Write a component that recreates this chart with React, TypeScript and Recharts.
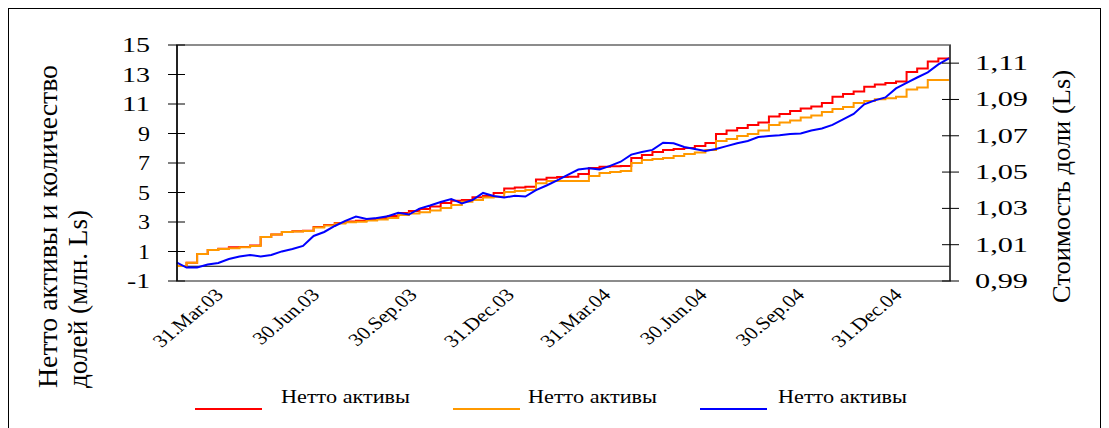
import React from 'react';
import { LineChart, Line, XAxis, YAxis, ReferenceLine, ReferenceArea } from 'recharts';

// days relative to 31.Mar.03
const days = [-39, -30, -20, -10, 0, 10, 20, 30, 40, 50, 60, 70, 80, 90, 100, 110, 120, 130, 140, 150, 160, 170, 180, 190, 200, 210, 220, 230, 240, 250, 260, 270, 280, 290, 300, 310, 320, 330, 340, 350, 360, 370, 380, 390, 400, 410, 420, 430, 440, 450, 460, 470, 480, 490, 500, 510, 520, 530, 540, 550, 560, 570, 580, 590, 600, 610, 620, 630, 640, 650, 660, 670, 680, 690];

const redSeries = [0.02, 0.24, 0.83, 1.10, 1.18, 1.28, 1.31, 1.41, 1.98, 2.15, 2.32, 2.37, 2.41, 2.66, 2.80, 2.93, 3.03, 3.08, 3.17, 3.27, 3.41, 3.61, 3.75, 3.88, 4.05, 4.29, 4.44, 4.49, 4.67, 4.76, 4.97, 5.27, 5.34, 5.39, 5.88, 6.00, 6.05, 6.07, 6.25, 6.66, 6.75, 6.78, 6.80, 7.34, 7.54, 7.75, 7.88, 7.95, 8.02, 8.15, 8.36, 8.97, 9.20, 9.37, 9.58, 9.75, 10.15, 10.32, 10.53, 10.69, 10.83, 11.07, 11.49, 11.68, 11.85, 12.17, 12.32, 12.42, 12.53, 13.17, 13.41, 13.88, 14.08, 14.17];

const orangeSeries = [0.02, 0.24, 0.83, 1.10, 1.17, 1.22, 1.28, 1.37, 1.98, 2.15, 2.32, 2.36, 2.39, 2.63, 2.76, 2.90, 2.98, 3.02, 3.10, 3.17, 3.27, 3.47, 3.58, 3.66, 3.78, 3.95, 4.15, 4.38, 4.49, 4.66, 4.72, 5.03, 5.10, 5.17, 5.62, 5.78, 5.78, 5.78, 5.78, 6.12, 6.32, 6.39, 6.46, 7.00, 7.20, 7.27, 7.34, 7.47, 7.61, 7.71, 7.88, 8.49, 8.63, 8.83, 8.97, 9.20, 9.58, 9.75, 9.88, 10.08, 10.22, 10.46, 10.66, 10.80, 11.07, 11.20, 11.33, 11.39, 11.49, 11.98, 12.12, 12.63, 12.63, 12.63];

const blueSeries = [1.0001, 0.9974, 0.9974, 0.9991, 0.9999, 1.0021, 1.0035, 1.0043, 1.0035, 1.0043, 1.0063, 1.0076, 1.0093, 1.0148, 1.0170, 1.0203, 1.0231, 1.0255, 1.0241, 1.0247, 1.0257, 1.0276, 1.0266, 1.0299, 1.0316, 1.0335, 1.0352, 1.0327, 1.0346, 1.0385, 1.0368, 1.0360, 1.0369, 1.0365, 1.0401, 1.0426, 1.0454, 1.0484, 1.0514, 1.0521, 1.0514, 1.0534, 1.0557, 1.0596, 1.0611, 1.0622, 1.0662, 1.0659, 1.0638, 1.0627, 1.0616, 1.0627, 1.0643, 1.0659, 1.0671, 1.0693, 1.0699, 1.0703, 1.0710, 1.0713, 1.0729, 1.0740, 1.0760, 1.0790, 1.0820, 1.0873, 1.0895, 1.0911, 1.0961, 1.0991, 1.1021, 1.1049, 1.1093, 1.1126];

const tickDays = [0, 91, 183, 275, 366, 457, 549, 641];
const tickLabels = ['31.Mar.03', '30.Jun.03', '30.Sep.03', '31.Dec.03', '31.Mar.04', '30.Jun.04', '30.Sep.04', '31.Dec.04'];
const leftTicks = [-1, 1, 3, 5, 7, 9, 11, 13, 15];
const rightTicks = [0.99, 1.01, 1.03, 1.05, 1.07, 1.09, 1.11];
const seriesNames = ['Нетто активы', 'Нетто активы', 'Нетто активы'];
const seriesColors = ['#ff0000', '#ff9900', '#0000ff'];
const leftTitle = ['Нетто активы и количество', 'долей (млн. Ls)'];
const rightTitle = 'Стоимость доли (Ls)';

const data = days.map((d, i) => ({ day: d, red: redSeries[i], orange: orangeSeries[i], blue: blueSeries[i] }));

const FONT = "'Liberation Serif', 'Times New Roman', serif";
const LEFT_AXIS_X = 168;
const RIGHT_AXIS_X = 941;
const PLOT_BOTTOM = 272;

const LeftTick = (props: any) => {
  const { y, payload } = props;
  const s = String(payload.value);
  const len = s === '-1' ? 23 : s.length === 1 ? 12 : 28;
  return (
    <g>
      <line x1={LEFT_AXIS_X - 9} x2={LEFT_AXIS_X + 8} y1={y} y2={y} stroke="#000" strokeWidth={1} />
      <text x={LEFT_AXIS_X - 27} y={y + 7} textAnchor="end" fontFamily={FONT} fontSize={20} fill="#000"
        textLength={len} lengthAdjust="spacingAndGlyphs">{s}</text>
    </g>
  );
};

const RightTick = (props: any) => {
  const { y, payload } = props;
  const s = Number(payload.value).toFixed(2).replace('.', ',');
  return (
    <g>
      <line x1={RIGHT_AXIS_X - 8} x2={RIGHT_AXIS_X + 9} y1={y} y2={y} stroke="#000" strokeWidth={1} />
      <text x={RIGHT_AXIS_X + 25} y={y + 7} textAnchor="start" fontFamily={FONT} fontSize={20} fill="#000"
        textLength={53} lengthAdjust="spacingAndGlyphs">{s}</text>
    </g>
  );
};

const XTick = (props: any) => {
  const { x, payload } = props;
  const idx = tickDays.indexOf(payload.value);
  const ax = x + 6;
  const ay = PLOT_BOTTOM + 15;
  return (
    <g transform={`translate(${ax},${ay}) scale(1.2,1) rotate(-45)`}>
      <text x={0} y={0} textAnchor="end" fontFamily={FONT} fontSize={18} fill="#000">
        {idx >= 0 ? tickLabels[idx] : ''}
      </text>
    </g>
  );
};

const legendX = [186, 444, 691];
const legendTextX = [272, 519, 769];

export default function App() {
  return (
    <div style={{ position: 'relative', width: 1093, height: 432, border: '1px solid #000', boxSizing: 'border-box', background: '#fff' }}>
      <LineChart width={1091} height={430} data={data} margin={{ top: 36, right: 50, bottom: 98, left: 108 }}>
        <XAxis dataKey="day" type="number" domain={[-39, 691]} ticks={tickDays} interval={0}
          axisLine={false} tickLine={false} height={60} tick={XTick} />
        <YAxis yAxisId="left" domain={[-1, 15]} ticks={leftTicks} interval={0} width={60}
          axisLine={{ stroke: '#000', strokeWidth: 1.5 }} tickLine={false} tick={LeftTick} />
        <YAxis yAxisId="right" orientation="right" domain={[0.99, 1.12]} ticks={rightTicks} interval={0} width={100}
          axisLine={{ stroke: '#333', strokeWidth: 1.5 }} tickLine={false} tick={RightTick} />
        <ReferenceArea yAxisId="left" x1={-39} x2={691} y1={-1} y2={15} fill="none" stroke="#8c8c8c" strokeWidth={2} ifOverflow="visible" />
        <ReferenceLine yAxisId="left" y={0} stroke="#000" strokeWidth={1} />
        <Line yAxisId="left" type="stepAfter" dataKey="red" name={seriesNames[0]} stroke={seriesColors[0]} strokeWidth={2} dot={false} isAnimationActive={false} />
        <Line yAxisId="left" type="stepAfter" dataKey="orange" name={seriesNames[1]} stroke={seriesColors[1]} strokeWidth={2} dot={false} isAnimationActive={false} />
        <Line yAxisId="right" type="linear" dataKey="blue" name={seriesNames[2]} stroke={seriesColors[2]} strokeWidth={2} dot={false} isAnimationActive={false} />
      </LineChart>
      <svg width={1091} height={430} style={{ position: 'absolute', left: 0, top: 0, pointerEvents: 'none' }}>
        <text transform="translate(48,379) rotate(-90)" textAnchor="start" fontFamily={FONT} fontSize={27} fill="#000"
          textLength={323} lengthAdjust="spacingAndGlyphs">{leftTitle[0]}</text>
        <text transform="translate(78,379) rotate(-90)" textAnchor="start" fontFamily={FONT} fontSize={27} fill="#000"
          textLength={178} lengthAdjust="spacingAndGlyphs">{leftTitle[1]}</text>
        <text transform="translate(1061,294) rotate(-90)" textAnchor="start" fontFamily={FONT} fontSize={26} fill="#000"
          textLength={233} lengthAdjust="spacingAndGlyphs">{rightTitle}</text>
        {seriesNames.map((n, i) => (
          <g key={i}>
            <line x1={legendX[i]} x2={legendX[i] + 67} y1={400} y2={400} stroke={seriesColors[i]} strokeWidth={2} />
            <text x={legendTextX[i]} y={394} fontFamily={FONT} fontSize={18} fill="#000" textLength={129} lengthAdjust="spacingAndGlyphs">{n}</text>
          </g>
        ))}
      </svg>
    </div>
  );
}
